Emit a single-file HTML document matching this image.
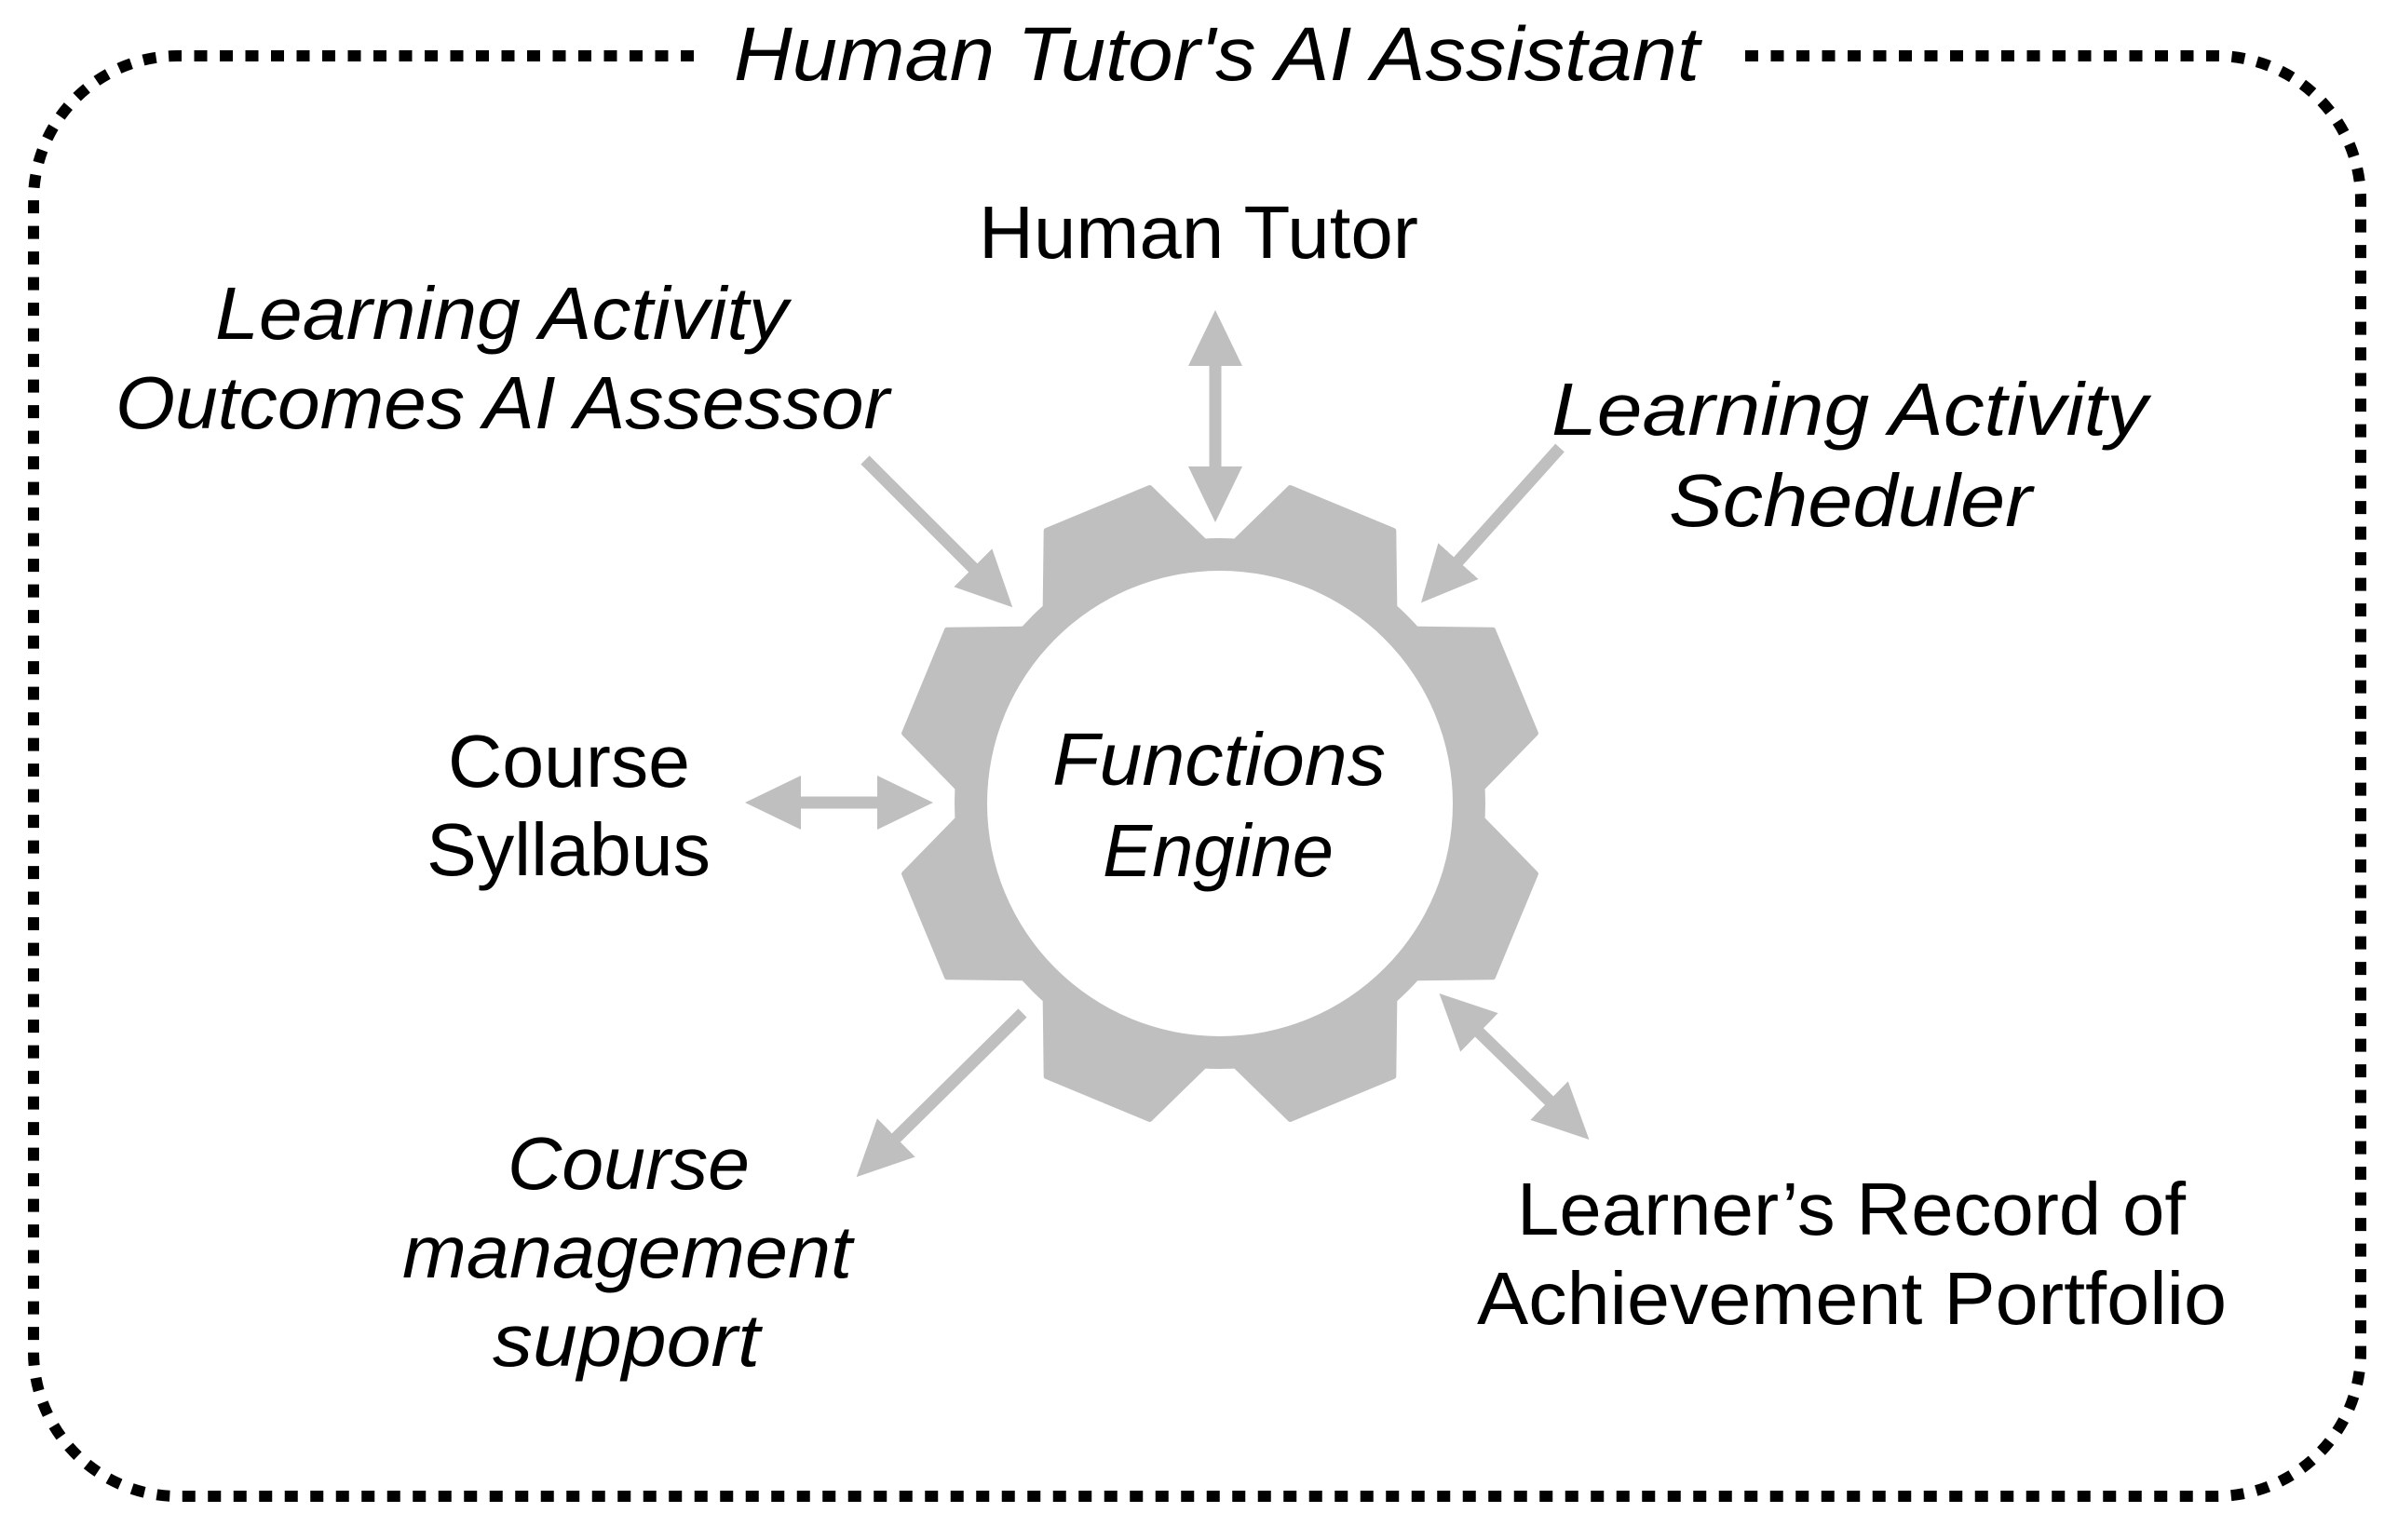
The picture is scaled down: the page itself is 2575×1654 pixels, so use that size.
<!DOCTYPE html>
<html><head><meta charset="utf-8"><style>
html,body{margin:0;padding:0;background:#fff;}
svg{display:block;}
text{font-family:"Liberation Sans",sans-serif;fill:#000;}
.i{font-style:italic;}
</style></head><body>
<svg width="2575" height="1654" viewBox="0 0 2575 1654" xmlns="http://www.w3.org/2000/svg">
<defs>
<marker id="ah" markerUnits="userSpaceOnUse" markerWidth="62" markerHeight="60" refX="30" refY="29" orient="auto-start-reverse">
<path d="M0,0 L60,29 L0,58 z" fill="#bfbfbf"/>
</marker>
</defs>
<path d="M745,60 L190,60 A155,155 0 0 0 36,215 L36,1452 A155,155 0 0 0 191,1607 L2380,1607 A155,155 0 0 0 2535,1452 L2535,215 A155,155 0 0 0 2380,60 L1870,60"
 fill="none" stroke="#000" stroke-width="12" stroke-dasharray="14 13.5"/>
<text class="i" x="788" y="86" font-size="82" textLength="1037" lengthAdjust="spacingAndGlyphs">Human Tutor's AI Assistant</text>

<g fill="#bfbfbf" stroke="#bfbfbf" stroke-width="6" stroke-linejoin="round">
<circle cx="1310" cy="863" r="282"/>
<polygon points="1214,605 1250,521 1370,521 1406,605" transform="rotate(22.5 1310 863)"/>
<polygon points="1214,605 1250,521 1370,521 1406,605" transform="rotate(67.5 1310 863)"/>
<polygon points="1214,605 1250,521 1370,521 1406,605" transform="rotate(112.5 1310 863)"/>
<polygon points="1214,605 1250,521 1370,521 1406,605" transform="rotate(157.5 1310 863)"/>
<polygon points="1214,605 1250,521 1370,521 1406,605" transform="rotate(202.5 1310 863)"/>
<polygon points="1214,605 1250,521 1370,521 1406,605" transform="rotate(247.5 1310 863)"/>
<polygon points="1214,605 1250,521 1370,521 1406,605" transform="rotate(292.5 1310 863)"/>
<polygon points="1214,605 1250,521 1370,521 1406,605" transform="rotate(337.5 1310 863)"/>
</g>
<circle cx="1310" cy="863" r="250" fill="#fff"/>

<g stroke="#bfbfbf" stroke-width="13" fill="none">
<line x1="1305" y1="363" x2="1305" y2="531" marker-start="url(#ah)" marker-end="url(#ah)"/>
<line x1="929" y1="494" x2="1066" y2="631" marker-end="url(#ah)"/>
<line x1="1675" y1="481" x2="1546" y2="625" marker-end="url(#ah)"/>
<line x1="830" y1="862" x2="972" y2="862" marker-start="url(#ah)" marker-end="url(#ah)"/>
<line x1="1098" y1="1088" x2="941" y2="1243" marker-end="url(#ah)"/>
<line x1="1567" y1="1088" x2="1685" y2="1203" marker-start="url(#ah)" marker-end="url(#ah)"/>
</g>

<g font-size="80">
<text x="1051" y="277" textLength="472" lengthAdjust="spacingAndGlyphs">Human Tutor</text>
<text class="i" x="231" y="364" textLength="615" lengthAdjust="spacingAndGlyphs">Learning Activity</text>
<text class="i" x="124" y="460" textLength="831" lengthAdjust="spacingAndGlyphs">Outcomes AI Assessor</text>
<text class="i" x="1666" y="467" textLength="640" lengthAdjust="spacingAndGlyphs">Learning Activity</text>
<text class="i" x="1792" y="565" textLength="390" lengthAdjust="spacingAndGlyphs">Scheduler</text>
<text x="481" y="845" textLength="260" lengthAdjust="spacingAndGlyphs">Course</text>
<text x="458" y="940" textLength="305" lengthAdjust="spacingAndGlyphs">Syllabus</text>
<text class="i" x="1130" y="843" textLength="358" lengthAdjust="spacingAndGlyphs">Functions</text>
<text class="i" x="1184" y="941" textLength="248" lengthAdjust="spacingAndGlyphs">Engine</text>
<text class="i" x="545" y="1277" textLength="260" lengthAdjust="spacingAndGlyphs">Course</text>
<text class="i" x="432" y="1372" textLength="483" lengthAdjust="spacingAndGlyphs">management</text>
<text class="i" x="529" y="1467" textLength="287" lengthAdjust="spacingAndGlyphs">support</text>
<text x="1629" y="1326" textLength="718" lengthAdjust="spacingAndGlyphs">Learner’s Record of</text>
<text x="1586" y="1422" textLength="805" lengthAdjust="spacingAndGlyphs">Achievement Portfolio</text>
</g>
</svg>
</body></html>
